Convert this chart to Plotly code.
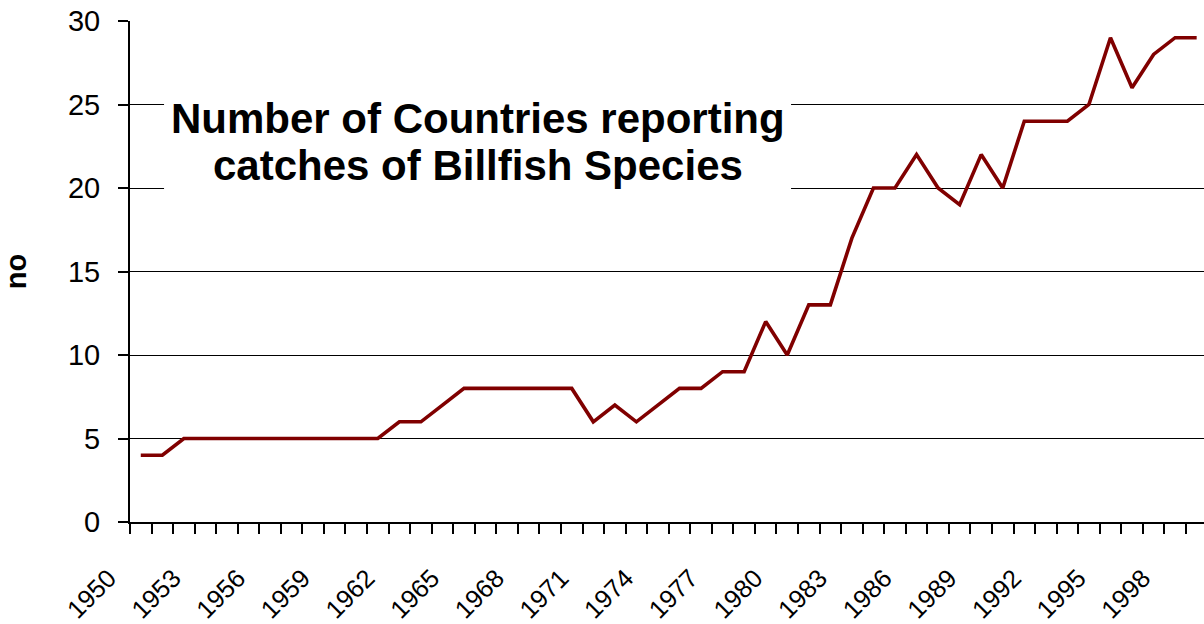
import plotly.graph_objects as go

years = list(range(1950, 2000))
countries = [4, 4,
             5, 5, 5, 5, 5, 5, 5, 5, 5, 5,
             6, 6, 7,
             8, 8, 8, 8, 8, 8,
             6, 7, 6, 7, 8, 8, 9, 9, 12, 10, 13, 13, 17,
             20, 20, 22, 20, 19, 22, 20,
             24, 24, 24, 25, 29, 26, 28, 29, 29]
tick_years = list(range(1950, 2000, 3))
tick_labels = [str(y) for y in tick_years]
y_ticks = [0, 5, 10, 15, 20, 25, 30]
title_lines = ["Number of Countries reporting", "catches of Billfish Species"]
y_title = "no"

FONT = "Liberation Sans, Arial, sans-serif"

fig = go.Figure()
fig.add_trace(go.Scatter(
    x=years, y=countries, mode="lines",
    line=dict(color="#800000", width=3.6),
    hoverinfo="x+y", showlegend=False,
))

fig.update_layout(
    width=1204, height=624,
    margin=dict(l=130, r=0, t=21, b=102),
    paper_bgcolor="white", plot_bgcolor="white",
    font=dict(family=FONT, color="black"),
)

fig.update_xaxes(
    range=[1949.5, 1999.34], automargin=False,
    tickmode="array", tickvals=tick_years, ticktext=tick_labels,
    tickangle=-45, tickfont=dict(size=25.5, family=FONT, color="black"),
    ticks="", ticklabelshift=-32, ticklabelstandoff=29,
    showline=True, linecolor="black", linewidth=2,
    showgrid=False, zeroline=False,
    minor=dict(tick0=1949.5, dtick=1, ticks="outside", ticklen=10,
               tickcolor="black", tickwidth=1.5, showgrid=False),
)

fig.update_yaxes(
    range=[0, 30], automargin=False, tickmode="array", tickvals=y_ticks,
    tickfont=dict(size=29, family=FONT, color="black"),
    ticks="outside", ticklen=10, tickcolor="black", tickwidth=1.5,
    ticklabelstandoff=12,
    showline=True, linecolor="black", linewidth=2,
    showgrid=True, gridcolor="black", gridwidth=1.3,
    zeroline=False,
    title=dict(text="<b>%s</b>" % y_title, font=dict(size=29, family=FONT, color="black"),
               standoff=40),
)

# white box behind the title (covers grid lines)
fig.add_shape(type="rect", xref="paper", yref="paper",
              x0=0.0317, x1=0.6155, y0=0.643, y1=0.852,
              fillcolor="white", line=dict(width=0), layer="above")

fig.add_annotation(text="<b>%s</b>" % title_lines[0], xref="paper", yref="paper",
                   x=0.3236, y=(522 - 118) / 501, xanchor="center", yanchor="middle",
                   showarrow=False, font=dict(size=42, family=FONT, color="black"))
fig.add_annotation(text="<b>%s</b>" % title_lines[1], xref="paper", yref="paper",
                   x=0.3236, y=(522 - 165) / 501, xanchor="center", yanchor="middle",
                   showarrow=False, font=dict(size=42, family=FONT, color="black"))

fig.write_html(
    "out.html",
    config={"displayModeBar": False},
    post_script="document.body.style.margin='0';document.body.style.overflow='hidden';",
)
